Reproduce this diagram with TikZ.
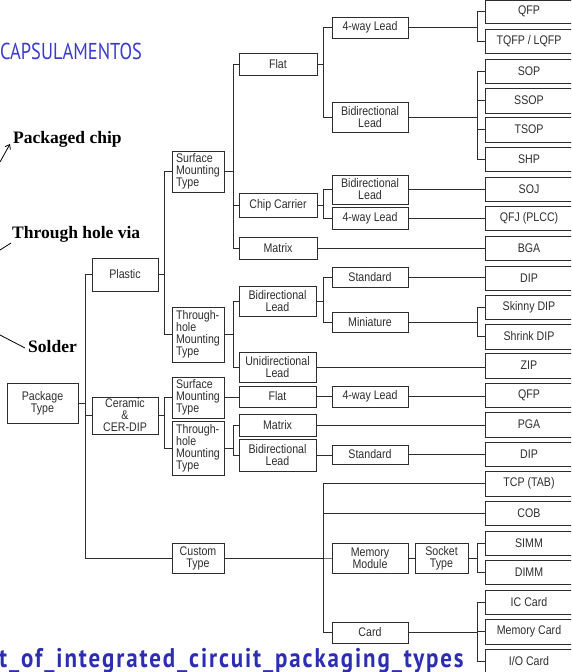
\documentclass[tikz,border=0pt]{standalone}
\usepackage{fontspec}
\usetikzlibrary{arrows.meta}
\setmainfont{Liberation Sans}
\newfontfamily\boxfont[FakeStretch=0.85]{Liberation Sans}
\newfontfamily\lblfont{Liberation Serif}
\newfontfamily\titlefont[FakeStretch=0.8]{PT Sans}
\newfontfamily\footfont[FakeStretch=0.85,LetterSpace=7]{PT Sans}
\definecolor{ink}{RGB}{45,45,45}
\definecolor{titleblue}{RGB}{58,58,206}
\definecolor{footblue}{RGB}{45,45,178}
\tikzset{
  box/.style={draw=ink, line width=0.8pt, inner sep=0pt, align=center, text=ink,
    font=\boxfont\fontsize{12.5}{12}\selectfont},
  lbox/.style={box, align=left},
  conn/.style={draw=ink, line width=0.8pt},
  lbl/.style={inner sep=0pt, font=\lblfont\bfseries\fontsize{17.5}{18}\selectfont},
  pointer/.style={draw=black, line width=0.8pt}
}
\newcommand\bx[7][box]{\node[#1, minimum width={(#5-#3)*1pt}, minimum height={(#6-#4)*1pt}] (#2) at ({(#3+#5)/2},{(#4+#6)/2}) {#7};}
\newcommand\fork[3]{\draw[conn] (#2.west) -| ([xshift=#3pt]#1.east) -- (#1.east);}
\newcommand\str[2]{\draw[conn] (#1.east) -- (#1.east -| #2.west);}
\begin{document}
\begin{tikzpicture}[x=1pt,y=-1pt]
\useasboundingbox (0,0) rectangle (571,672);
\clip (0,0) rectangle (571,672);
% left column
\bx{pkg}{7}{383}{78}{423}{Package\\Type}
\bx{plastic}{92}{258}{158}{291}{Plastic}
\bx{ceramic}{92}{397}{158}{434}{Ceramic\\\&\\CER-DIP}
\bx[lbox]{smtP}{172}{151}{224}{192}{Surface\\Mounting\\Type}
\bx[lbox]{thtP}{172}{307}{224}{362}{Through-\\hole\\Mounting\\Type}
\bx[lbox]{smtC}{172}{377}{224}{418}{Surface\\Mounting\\Type}
\bx[lbox]{thtC}{172}{421}{224}{475}{Through-\\hole\\Mounting\\Type}
\bx{custom}{172}{543}{224}{573}{Custom\\Type}
% third column
\bx{flat}{239}{53}{317}{75}{Flat}
\bx{chip}{239}{193}{317}{217}{Chip Carrier}
\bx{matrixP}{239}{237}{317}{259}{Matrix}
\bx{bidiTP}{239}{286}{316}{316}{Bidirectional\\Lead}
\bx{unidir}{239}{352}{316}{382}{Unidirectional\\Lead}
\bx{flatC}{239}{386}{316}{407}{Flat}
\bx{matrixC}{239}{414}{316}{436}{Matrix}
\bx{bidiC}{239}{439}{316}{471}{Bidirectional\\Lead}
% fourth column
\bx{wayA}{332}{17}{408}{38}{4-way Lead}
\bx{bidiF}{332}{102}{408}{132}{Bidirectional\\Lead}
\bx{bidiCC}{332}{175}{408}{204}{Bidirectional\\Lead}
\bx{wayB}{332}{207}{408}{229}{4-way Lead}
\bx{stdP}{332}{267}{408}{287}{Standard}
\bx{mini}{332}{312}{408}{332}{Miniature}
\bx{wayC}{332}{386}{408}{407}{4-way Lead}
\bx{stdC}{332}{445}{408}{464}{Standard}
\bx{memmod}{332}{543}{408}{573}{Memory\\Module}
\bx{card}{332}{622}{408}{643}{Card}
\bx{socket}{415}{543}{468}{573}{Socket\\Type}
% leaves
\bx{qfpA}{485}{0}{573}{23}{QFP}
\bx{tqfp}{485}{29}{573}{53}{TQFP / LQFP}
\bx{sop}{485}{59}{573}{83}{SOP}
\bx{ssop}{485}{88}{573}{113}{SSOP}
\bx{tsop}{485}{117}{573}{142}{TSOP}
\bx{shp}{485}{147}{573}{171}{SHP}
\bx{soj}{485}{177}{573}{201}{SOJ}
\bx{qfj}{485}{206}{573}{230}{QFJ (PLCC)}
\bx{bga}{485}{236}{573}{260}{BGA}
\bx{dipA}{485}{266}{573}{290}{DIP}
\bx{skinny}{485}{295}{573}{319}{Skinny DIP}
\bx{shrink}{485}{324}{573}{349}{Shrink DIP}
\bx{zip}{485}{353}{573}{378}{ZIP}
\bx{qfpB}{485}{383}{573}{407}{QFP}
\bx{pga}{485}{412}{573}{437}{PGA}
\bx{dipB}{485}{442}{573}{466}{DIP}
\bx{tcp}{485}{471}{573}{496}{TCP (TAB)}
\bx{cob}{485}{501}{573}{525}{COB}
\bx{simm}{485}{531}{573}{555}{SIMM}
\bx{dimm}{485}{560}{573}{584}{DIMM}
\bx{iccard}{485}{590}{573}{614}{IC Card}
\bx{memcard}{485}{619}{573}{644}{Memory Card}
\bx{iocard}{485}{649}{573}{674}{I/O Card}
% connectors
\fork{pkg}{plastic}{7}\fork{pkg}{ceramic}{7}\fork{pkg}{custom}{7}
\fork{plastic}{smtP}{6}\fork{plastic}{thtP}{6}
\fork{ceramic}{smtC}{6}\fork{ceramic}{thtC}{6}
\fork{smtP}{flat}{9}\fork{smtP}{chip}{9}\fork{smtP}{matrixP}{9}
\fork{thtP}{bidiTP}{9}\fork{thtP}{unidir}{9}
\str{smtC}{flatC}
\fork{thtC}{matrixC}{9}\fork{thtC}{bidiC}{9}
\fork{custom}{tcp}{99}\fork{custom}{cob}{99}\fork{custom}{memmod}{99}\fork{custom}{card}{99}
\fork{flat}{wayA}{6}\fork{flat}{bidiF}{6}
\fork{chip}{bidiCC}{6}\fork{chip}{wayB}{6}
\str{matrixP}{bga}
\fork{wayA}{qfpA}{69}\fork{wayA}{tqfp}{69}
\fork{bidiF}{sop}{69}\fork{bidiF}{ssop}{69}\fork{bidiF}{tsop}{69}\fork{bidiF}{shp}{69}
\str{bidiCC}{soj}\str{wayB}{qfj}
\fork{bidiTP}{stdP}{7}\fork{bidiTP}{mini}{7}
\str{stdP}{dipA}
\fork{mini}{skinny}{69}\fork{mini}{shrink}{69}
\str{unidir}{zip}
\str{flatC}{wayC}\str{wayC}{qfpB}
\str{matrixC}{pga}
\str{bidiC}{stdC}\str{stdC}{dipB}
\str{memmod}{socket}
\fork{socket}{simm}{9}\fork{socket}{dimm}{9}
\fork{card}{iccard}{69}\fork{card}{memcard}{69}\fork{card}{iocard}{69}
% side labels
\node[lbl, anchor=base west] (pc) at (13,143) {Packaged chip};
\node[lbl, anchor=base west] (thv) at (12,238) {Through hole via};
\node[lbl, anchor=base west] (sol) at (28,352) {Solder};
\coordinate (pcend) at (0,162);
\coordinate (thvend) at (0,250);
\coordinate (solend) at (0,335);
\draw[pointer, -{Straight Barb[length=4pt,width=6pt]}] (pcend) -- ([xshift=-3pt,yshift=-1pt]pc.base west);
\draw[pointer] (thvend) -- ([xshift=-1pt,yshift=-5pt]thv.base west);
\draw[pointer] (solend) -- ([xshift=-3pt,yshift=4pt]sol.base west);
% titles
\node[anchor=base west, inner sep=0pt, text=titleblue, font=\titlefont\fontsize{23}{24}\selectfont] (title) at (0,59) {CAPSULAMENTOS};
\node[anchor=base west, inner sep=0pt, text=footblue, font=\footfont\bfseries\fontsize{27}{27}\selectfont] (foot) at (-1,667) {t\_of\_integrated\_circuit\_packaging\_types};
\end{tikzpicture}
\end{document}
